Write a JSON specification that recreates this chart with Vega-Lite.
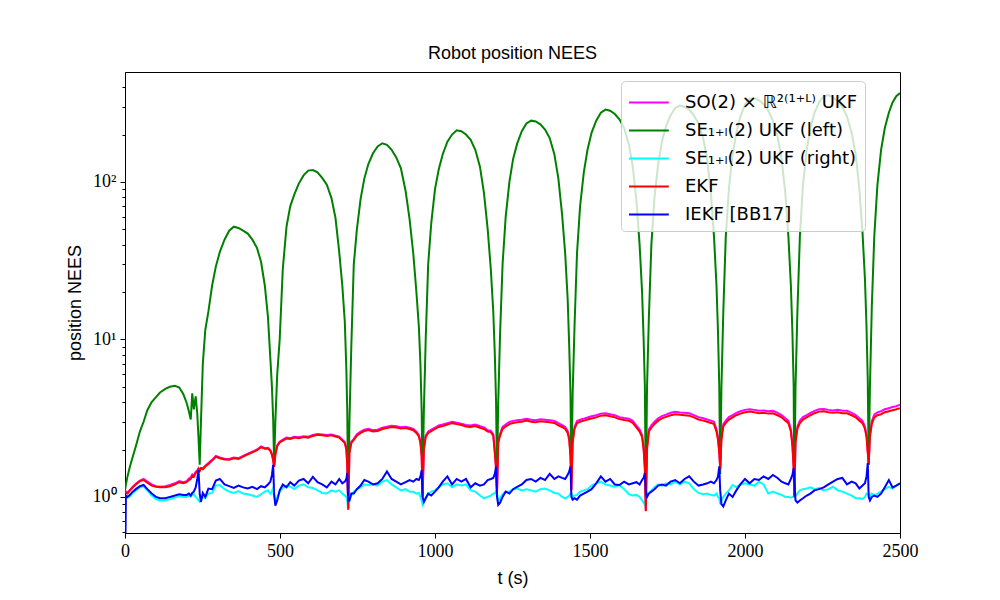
{
  "$schema": "https://vega.github.io/schema/vega-lite/v6.json",
  "width": 775,
  "height": 461,
  "autosize": {"type": "none"},
  "padding": {"left": 125, "top": 72, "right": 100, "bottom": 67},
  "background": "white",
  "title": {"text": "Robot position NEES", "font": "Liberation Sans", "fontSize": 18, "fontWeight": "normal", "color": "black", "offset": 9, "anchor": "middle"},
  "config": {
    "view": {"stroke": "black", "strokeWidth": 1},
    "axis": {"domainColor": "black", "tickColor": "black", "labelColor": "black", "titleColor": "black", "grid": false, "domainWidth": 1, "tickWidth": 1}
  },
  "data": {"values": [
    {"t":0,"g":1.1,"r":1.1,"b":0.3,"c":1.0,"m":1.11},
    {"t":3,"g":1.2,"r":1.06,"b":1.02,"c":1.0,"m":1.07},
    {"t":8,"g":1.35,"r":1.05,"b":1.0,"c":0.99,"m":1.06},
    {"t":16,"g":1.56,"r":1.1,"b":1.03,"c":1.01,"m":1.11},
    {"t":25,"g":1.8,"r":1.15,"b":1.08,"c":1.06,"m":1.16},
    {"t":35,"g":2.1,"r":1.2,"b":1.12,"c":1.1,"m":1.21},
    {"t":48,"g":2.6,"r":1.26,"b":1.17,"c":1.15,"m":1.27},
    {"t":60,"g":3.0,"r":1.28,"b":1.19,"c":1.17,"m":1.3},
    {"t":72,"g":3.55,"r":1.23,"b":1.12,"c":1.1,"m":1.25},
    {"t":86,"g":4.0,"r":1.18,"b":1.05,"c":1.02,"m":1.2},
    {"t":100,"g":4.3,"r":1.16,"b":1.0,"c":0.97,"m":1.17},
    {"t":113,"g":4.6,"r":1.15,"b":0.98,"c":0.95,"m":1.16},
    {"t":130,"g":4.85,"r":1.15,"b":0.98,"c":0.95,"m":1.17},
    {"t":145,"g":5.0,"r":1.17,"b":1.0,"c":0.97,"m":1.19},
    {"t":161,"g":5.07,"r":1.2,"b":1.02,"c":0.99,"m":1.22},
    {"t":175,"g":4.95,"r":1.24,"b":1.04,"c":1.01,"m":1.26},
    {"t":188,"g":4.5,"r":1.22,"b":1.03,"c":1.0,"m":1.24},
    {"t":199,"g":3.95,"r":1.24,"b":1.03,"c":1.0,"m":1.26},
    {"t":206,"g":3.5,"r":1.28,"b":1.05,"c":1.02,"m":1.31},
    {"t":212,"g":3.1,"r":1.3,"b":1.02,"c":1.0,"m":1.33},
    {"t":217,"g":4.55,"r":1.36,"b":1.06,"c":1.03,"m":1.39},
    {"t":222,"g":3.6,"r":1.34,"b":1.08,"c":1.04,"m":1.37},
    {"t":228,"g":4.35,"r":1.42,"b":1.15,"c":1.0,"m":1.44},
    {"t":233,"g":3.4,"r":1.45,"b":1.3,"c":0.98,"m":1.47},
    {"t":237,"g":2.4,"r":1.5,"b":1.48,"c":0.95,"m":1.52},
    {"t":241,"g":1.6,"r":1.46,"b":1.05,"c":0.93,"m":1.47},
    {"t":245,"g":3.0,"r":1.52,"b":0.93,"c":0.95,"m":1.53},
    {"t":251,"g":7.0,"r":1.5,"b":1.06,"c":1.0,"m":1.52},
    {"t":259,"g":11.5,"r":1.56,"b":1.0,"c":0.98,"m":1.58},
    {"t":269,"g":15,"r":1.62,"b":1.13,"c":1.05,"m":1.64},
    {"t":281,"g":22,"r":1.7,"b":1.12,"c":1.06,"m":1.72},
    {"t":293,"g":29,"r":1.8,"b":1.27,"c":1.18,"m":1.82},
    {"t":306,"g":36,"r":1.76,"b":1.3,"c":1.19,"m":1.78},
    {"t":321,"g":43,"r":1.73,"b":1.2,"c":1.12,"m":1.75},
    {"t":336,"g":49,"r":1.72,"b":1.17,"c":1.08,"m":1.74},
    {"t":351,"g":52,"r":1.76,"b":1.14,"c":1.06,"m":1.78},
    {"t":366,"g":51,"r":1.74,"b":1.18,"c":1.09,"m":1.76},
    {"t":381,"g":49,"r":1.8,"b":1.15,"c":1.05,"m":1.82},
    {"t":396,"g":47,"r":1.86,"b":1.13,"c":1.04,"m":1.88},
    {"t":411,"g":43,"r":1.92,"b":1.16,"c":1.02,"m":1.94},
    {"t":426,"g":38,"r":1.98,"b":1.12,"c":1.0,"m":2.0},
    {"t":439,"g":31,"r":2.07,"b":1.17,"c":1.04,"m":2.09},
    {"t":451,"g":22,"r":2.02,"b":1.15,"c":1.08,"m":2.04},
    {"t":461,"g":14,"r":2.03,"b":1.2,"c":1.1,"m":2.05},
    {"t":469,"g":7.5,"r":1.96,"b":1.25,"c":1.05,"m":1.98},
    {"t":474,"g":5,"r":1.85,"b":1.38,"c":1.08,"m":1.87},
    {"t":478,"g":3.1,"r":1.7,"b":1.6,"c":1.15,"m":1.72},
    {"t":481,"g":1.6,"r":1.55,"b":1.05,"c":1.0,"m":1.56},
    {"t":485,"g":3.0,"r":1.85,"b":0.88,"c":0.95,"m":1.87},
    {"t":491,"g":6,"r":2.1,"b":0.95,"c":1.0,"m":2.12},
    {"t":499,"g":10,"r":2.22,"b":1.1,"c":1.08,"m":2.24},
    {"t":509,"g":28,"r":2.28,"b":1.2,"c":1.14,"m":2.31},
    {"t":521,"g":52,"r":2.35,"b":1.15,"c":1.18,"m":2.38},
    {"t":533,"g":70,"r":2.33,"b":1.24,"c":1.16,"m":2.36},
    {"t":546,"g":83,"r":2.38,"b":1.18,"c":1.12,"m":2.41},
    {"t":561,"g":98,"r":2.36,"b":1.27,"c":1.18,"m":2.39},
    {"t":576,"g":110,"r":2.4,"b":1.3,"c":1.2,"m":2.43},
    {"t":591,"g":118,"r":2.38,"b":1.22,"c":1.15,"m":2.41},
    {"t":606,"g":119,"r":2.44,"b":1.34,"c":1.14,"m":2.47},
    {"t":621,"g":115,"r":2.48,"b":1.24,"c":1.1,"m":2.51},
    {"t":636,"g":106,"r":2.46,"b":1.2,"c":1.06,"m":2.49},
    {"t":651,"g":96,"r":2.44,"b":1.15,"c":1.05,"m":2.47},
    {"t":666,"g":79,"r":2.46,"b":1.25,"c":1.1,"m":2.49},
    {"t":679,"g":59,"r":2.42,"b":1.2,"c":1.08,"m":2.45},
    {"t":691,"g":36,"r":2.38,"b":1.3,"c":1.1,"m":2.41},
    {"t":701,"g":22,"r":2.28,"b":1.22,"c":1.05,"m":2.31},
    {"t":709,"g":13,"r":2.2,"b":1.25,"c":1.02,"m":2.23},
    {"t":714,"g":6.5,"r":2.0,"b":1.3,"c":1.0,"m":2.03},
    {"t":717,"g":3.5,"r":1.6,"b":1.42,"c":0.95,"m":1.62},
    {"t":720,"g":0.9,"r":0.83,"b":0.95,"c":0.83,"m":0.84},
    {"t":724,"g":3,"r":1.9,"b":0.95,"c":0.95,"m":1.93},
    {"t":730,"g":9,"r":2.2,"b":1.05,"c":1.02,"m":2.24},
    {"t":738,"g":30,"r":2.3,"b":1.05,"c":1.08,"m":2.34},
    {"t":748,"g":50,"r":2.45,"b":1.12,"c":1.12,"m":2.5},
    {"t":760,"g":78,"r":2.55,"b":1.18,"c":1.15,"m":2.6},
    {"t":772,"g":105,"r":2.62,"b":1.28,"c":1.2,"m":2.67},
    {"t":785,"g":130,"r":2.66,"b":1.25,"c":1.19,"m":2.71},
    {"t":800,"g":152,"r":2.6,"b":1.2,"c":1.2,"m":2.65},
    {"t":815,"g":168,"r":2.62,"b":1.22,"c":1.18,"m":2.67},
    {"t":830,"g":176,"r":2.7,"b":1.3,"c":1.25,"m":2.75},
    {"t":845,"g":172,"r":2.74,"b":1.45,"c":1.28,"m":2.79},
    {"t":860,"g":160,"r":2.78,"b":1.3,"c":1.2,"m":2.83},
    {"t":875,"g":143,"r":2.76,"b":1.25,"c":1.15,"m":2.81},
    {"t":890,"g":122,"r":2.72,"b":1.2,"c":1.1,"m":2.77},
    {"t":905,"g":88,"r":2.74,"b":1.24,"c":1.12,"m":2.79},
    {"t":918,"g":58,"r":2.7,"b":1.28,"c":1.08,"m":2.75},
    {"t":930,"g":35,"r":2.65,"b":1.25,"c":1.08,"m":2.7},
    {"t":940,"g":20,"r":2.55,"b":1.3,"c":1.05,"m":2.6},
    {"t":948,"g":12,"r":2.42,"b":1.28,"c":1.06,"m":2.47},
    {"t":953,"g":7,"r":2.2,"b":1.35,"c":1.0,"m":2.24},
    {"t":957,"g":3.5,"r":1.8,"b":1.48,"c":0.95,"m":1.83},
    {"t":960,"g":1.2,"r":1.0,"b":1.0,"c":0.89,"m":1.01},
    {"t":964,"g":3.5,"r":2.0,"b":0.93,"c":0.92,"m":2.04},
    {"t":970,"g":10,"r":2.4,"b":0.98,"c":0.98,"m":2.45},
    {"t":978,"g":30,"r":2.55,"b":1.05,"c":1.05,"m":2.6},
    {"t":988,"g":55,"r":2.62,"b":1.02,"c":1.08,"m":2.67},
    {"t":1000,"g":90,"r":2.7,"b":1.08,"c":1.1,"m":2.75},
    {"t":1012,"g":120,"r":2.78,"b":1.15,"c":1.15,"m":2.84},
    {"t":1025,"g":150,"r":2.82,"b":1.25,"c":1.2,"m":2.88},
    {"t":1040,"g":180,"r":2.88,"b":1.35,"c":1.22,"m":2.94},
    {"t":1055,"g":200,"r":2.94,"b":1.2,"c":1.15,"m":3.0},
    {"t":1070,"g":213,"r":2.9,"b":1.3,"c":1.2,"m":2.96},
    {"t":1085,"g":210,"r":2.86,"b":1.25,"c":1.18,"m":2.92},
    {"t":1100,"g":200,"r":2.8,"b":1.3,"c":1.2,"m":2.86},
    {"t":1115,"g":185,"r":2.78,"b":1.15,"c":1.1,"m":2.84},
    {"t":1130,"g":160,"r":2.82,"b":1.22,"c":1.08,"m":2.88},
    {"t":1145,"g":125,"r":2.75,"b":1.18,"c":1.02,"m":2.81},
    {"t":1158,"g":85,"r":2.7,"b":1.2,"c":0.98,"m":2.76},
    {"t":1170,"g":50,"r":2.6,"b":1.28,"c":1.0,"m":2.65},
    {"t":1180,"g":28,"r":2.58,"b":1.3,"c":1.02,"m":2.63},
    {"t":1188,"g":15,"r":2.45,"b":1.32,"c":1.05,"m":2.5},
    {"t":1193,"g":8,"r":1.9,"b":1.4,"c":1.05,"m":1.94},
    {"t":1197,"g":4,"r":1.5,"b":1.56,"c":1.08,"m":1.53},
    {"t":1200,"g":1.3,"r":1.05,"b":1.0,"c":1.05,"m":1.07},
    {"t":1204,"g":4,"r":2.2,"b":0.89,"c":0.95,"m":2.26},
    {"t":1210,"g":11,"r":2.45,"b":0.92,"c":0.98,"m":2.52},
    {"t":1218,"g":30,"r":2.7,"b":1.0,"c":1.04,"m":2.78},
    {"t":1228,"g":60,"r":2.8,"b":1.08,"c":1.08,"m":2.88},
    {"t":1240,"g":100,"r":2.9,"b":1.05,"c":1.08,"m":2.99},
    {"t":1252,"g":140,"r":2.95,"b":1.12,"c":1.12,"m":3.04},
    {"t":1265,"g":175,"r":2.98,"b":1.16,"c":1.13,"m":3.07},
    {"t":1280,"g":210,"r":3.0,"b":1.2,"c":1.1,"m":3.09},
    {"t":1295,"g":235,"r":3.05,"b":1.28,"c":1.12,"m":3.14},
    {"t":1310,"g":245,"r":3.0,"b":1.3,"c":1.1,"m":3.09},
    {"t":1325,"g":242,"r":2.98,"b":1.25,"c":1.08,"m":3.07},
    {"t":1340,"g":232,"r":3.02,"b":1.32,"c":1.12,"m":3.11},
    {"t":1355,"g":215,"r":3.0,"b":1.28,"c":1.13,"m":3.09},
    {"t":1370,"g":190,"r":2.98,"b":1.4,"c":1.1,"m":3.07},
    {"t":1385,"g":150,"r":2.95,"b":1.3,"c":1.06,"m":3.04},
    {"t":1398,"g":105,"r":2.85,"b":1.35,"c":1.05,"m":2.94},
    {"t":1410,"g":62,"r":2.78,"b":1.32,"c":1.0,"m":2.86},
    {"t":1420,"g":35,"r":2.7,"b":1.3,"c":0.98,"m":2.78},
    {"t":1428,"g":18,"r":2.55,"b":1.38,"c":1.0,"m":2.63},
    {"t":1433,"g":9,"r":2.3,"b":1.45,"c":1.02,"m":2.37},
    {"t":1437,"g":4.5,"r":1.8,"b":1.56,"c":1.05,"m":1.85},
    {"t":1440,"g":1.3,"r":1.1,"b":1.0,"c":1.05,"m":1.12},
    {"t":1444,"g":4.5,"r":2.2,"b":0.96,"c":1.0,"m":2.27},
    {"t":1450,"g":12,"r":2.7,"b":0.98,"c":1.02,"m":2.78},
    {"t":1458,"g":35,"r":2.94,"b":0.96,"c":1.03,"m":3.03},
    {"t":1468,"g":70,"r":3.0,"b":1.02,"c":1.08,"m":3.09},
    {"t":1480,"g":115,"r":3.05,"b":1.05,"c":1.1,"m":3.14},
    {"t":1492,"g":160,"r":3.1,"b":1.08,"c":1.12,"m":3.19},
    {"t":1505,"g":205,"r":3.15,"b":1.12,"c":1.18,"m":3.25},
    {"t":1520,"g":245,"r":3.2,"b":1.22,"c":1.22,"m":3.3},
    {"t":1535,"g":275,"r":3.28,"b":1.35,"c":1.25,"m":3.38},
    {"t":1550,"g":288,"r":3.3,"b":1.25,"c":1.2,"m":3.4},
    {"t":1565,"g":283,"r":3.25,"b":1.3,"c":1.18,"m":3.35},
    {"t":1580,"g":270,"r":3.2,"b":1.2,"c":1.16,"m":3.3},
    {"t":1595,"g":250,"r":3.12,"b":1.19,"c":1.19,"m":3.21},
    {"t":1610,"g":220,"r":3.08,"b":1.25,"c":1.12,"m":3.17},
    {"t":1625,"g":175,"r":3.05,"b":1.2,"c":1.04,"m":3.14},
    {"t":1638,"g":125,"r":2.95,"b":1.22,"c":1.02,"m":3.04},
    {"t":1650,"g":75,"r":2.75,"b":1.24,"c":1.03,"m":2.83},
    {"t":1660,"g":40,"r":2.6,"b":1.2,"c":1.0,"m":2.68},
    {"t":1668,"g":20,"r":2.4,"b":1.28,"c":0.95,"m":2.47},
    {"t":1673,"g":10,"r":2.0,"b":1.32,"c":0.92,"m":2.06},
    {"t":1677,"g":5,"r":1.5,"b":1.42,"c":0.89,"m":1.54},
    {"t":1680,"g":1.0,"r":0.81,"b":1.1,"c":0.95,"m":0.82},
    {"t":1684,"g":5,"r":2.0,"b":1.0,"c":1.0,"m":2.07},
    {"t":1690,"g":14,"r":2.6,"b":1.05,"c":1.06,"m":2.69},
    {"t":1698,"g":40,"r":2.75,"b":1.08,"c":1.1,"m":2.85},
    {"t":1708,"g":80,"r":2.9,"b":1.12,"c":1.15,"m":3.0},
    {"t":1720,"g":130,"r":3.05,"b":1.18,"c":1.2,"m":3.16},
    {"t":1732,"g":180,"r":3.15,"b":1.2,"c":1.18,"m":3.26},
    {"t":1745,"g":225,"r":3.22,"b":1.18,"c":1.22,"m":3.33},
    {"t":1760,"g":265,"r":3.3,"b":1.25,"c":1.2,"m":3.42},
    {"t":1775,"g":295,"r":3.35,"b":1.28,"c":1.25,"m":3.47},
    {"t":1790,"g":305,"r":3.32,"b":1.22,"c":1.2,"m":3.44},
    {"t":1805,"g":300,"r":3.3,"b":1.3,"c":1.25,"m":3.42},
    {"t":1820,"g":288,"r":3.28,"b":1.35,"c":1.22,"m":3.4},
    {"t":1835,"g":265,"r":3.2,"b":1.25,"c":1.12,"m":3.31},
    {"t":1850,"g":235,"r":3.1,"b":1.18,"c":1.06,"m":3.21},
    {"t":1865,"g":190,"r":3.05,"b":1.2,"c":1.04,"m":3.16},
    {"t":1878,"g":140,"r":3.0,"b":1.22,"c":1.05,"m":3.1},
    {"t":1890,"g":85,"r":2.95,"b":1.25,"c":1.03,"m":3.05},
    {"t":1900,"g":45,"r":2.9,"b":1.22,"c":1.02,"m":3.0},
    {"t":1908,"g":22,"r":2.6,"b":1.28,"c":1.05,"m":2.69},
    {"t":1913,"g":11,"r":2.3,"b":1.35,"c":1.0,"m":2.38},
    {"t":1917,"g":5,"r":1.9,"b":1.56,"c":0.98,"m":1.96},
    {"t":1920,"g":1.4,"r":1.5,"b":1.1,"c":0.9,"m":1.53},
    {"t":1924,"g":5,"r":2.3,"b":0.9,"c":0.95,"m":2.38},
    {"t":1930,"g":15,"r":2.8,"b":0.87,"c":1.0,"m":2.9},
    {"t":1938,"g":45,"r":2.95,"b":0.95,"c":1.05,"m":3.05},
    {"t":1948,"g":90,"r":3.1,"b":1.05,"c":1.1,"m":3.21},
    {"t":1960,"g":150,"r":3.2,"b":1.0,"c":1.19,"m":3.31},
    {"t":1972,"g":205,"r":3.3,"b":1.1,"c":1.15,"m":3.42},
    {"t":1985,"g":260,"r":3.38,"b":1.2,"c":1.2,"m":3.5},
    {"t":2000,"g":310,"r":3.45,"b":1.3,"c":1.22,"m":3.57},
    {"t":2015,"g":338,"r":3.48,"b":1.22,"c":1.2,"m":3.6},
    {"t":2030,"g":340,"r":3.45,"b":1.3,"c":1.18,"m":3.57},
    {"t":2045,"g":330,"r":3.4,"b":1.28,"c":1.25,"m":3.52},
    {"t":2060,"g":312,"r":3.42,"b":1.35,"c":1.2,"m":3.54},
    {"t":2075,"g":285,"r":3.38,"b":1.3,"c":1.05,"m":3.5},
    {"t":2090,"g":245,"r":3.4,"b":1.38,"c":1.08,"m":3.52},
    {"t":2105,"g":195,"r":3.3,"b":1.32,"c":1.05,"m":3.42},
    {"t":2118,"g":140,"r":3.2,"b":1.25,"c":1.03,"m":3.31},
    {"t":2130,"g":85,"r":3.05,"b":1.22,"c":1.0,"m":3.16},
    {"t":2140,"g":45,"r":2.94,"b":1.2,"c":1.0,"m":3.04},
    {"t":2148,"g":22,"r":2.6,"b":1.3,"c":0.99,"m":2.69},
    {"t":2153,"g":11,"r":2.1,"b":1.38,"c":1.0,"m":2.17},
    {"t":2157,"g":5,"r":1.5,"b":1.52,"c":1.0,"m":1.55},
    {"t":2159,"g":1.0,"r":1.0,"b":1.3,"c":1.0,"m":1.02},
    {"t":2163,"g":5,"r":2.2,"b":0.95,"c":1.02,"m":2.28},
    {"t":2169,"g":15,"r":2.7,"b":0.92,"c":1.05,"m":2.8},
    {"t":2177,"g":45,"r":2.94,"b":0.95,"c":1.1,"m":3.05},
    {"t":2187,"g":95,"r":3.1,"b":0.98,"c":1.12,"m":3.21},
    {"t":2199,"g":160,"r":3.2,"b":1.02,"c":1.13,"m":3.31},
    {"t":2211,"g":220,"r":3.3,"b":1.05,"c":1.15,"m":3.42},
    {"t":2224,"g":275,"r":3.4,"b":1.1,"c":1.12,"m":3.52},
    {"t":2239,"g":320,"r":3.48,"b":1.12,"c":1.14,"m":3.6},
    {"t":2254,"g":350,"r":3.5,"b":1.15,"c":1.1,"m":3.62},
    {"t":2269,"g":356,"r":3.45,"b":1.2,"c":1.12,"m":3.57},
    {"t":2284,"g":345,"r":3.42,"b":1.25,"c":1.16,"m":3.54},
    {"t":2299,"g":325,"r":3.45,"b":1.3,"c":1.1,"m":3.57},
    {"t":2314,"g":300,"r":3.4,"b":1.32,"c":1.08,"m":3.52},
    {"t":2329,"g":260,"r":3.4,"b":1.2,"c":1.05,"m":3.52},
    {"t":2344,"g":205,"r":3.3,"b":1.25,"c":1.02,"m":3.42},
    {"t":2357,"g":150,"r":3.2,"b":1.22,"c":0.98,"m":3.31},
    {"t":2369,"g":90,"r":3.05,"b":1.13,"c":0.98,"m":3.16},
    {"t":2379,"g":48,"r":2.94,"b":1.18,"c":0.97,"m":3.04},
    {"t":2387,"g":24,"r":2.7,"b":1.22,"c":1.0,"m":2.79},
    {"t":2392,"g":12,"r":2.4,"b":1.35,"c":1.05,"m":2.48},
    {"t":2396,"g":5.5,"r":1.9,"b":1.64,"c":1.04,"m":1.96},
    {"t":2399,"g":1.6,"r":1.6,"b":1.0,"c":1.05,"m":1.63},
    {"t":2403,"g":5,"r":2.4,"b":0.95,"c":1.0,"m":2.5},
    {"t":2409,"g":16,"r":2.9,"b":1.0,"c":1.05,"m":3.02},
    {"t":2417,"g":45,"r":3.2,"b":1.02,"c":1.02,"m":3.33},
    {"t":2427,"g":95,"r":3.3,"b":1.0,"c":1.05,"m":3.44},
    {"t":2439,"g":160,"r":3.35,"b":1.05,"c":1.08,"m":3.5},
    {"t":2451,"g":220,"r":3.45,"b":1.15,"c":1.12,"m":3.6},
    {"t":2464,"g":275,"r":3.5,"b":1.28,"c":1.16,"m":3.66},
    {"t":2476,"g":320,"r":3.55,"b":1.15,"c":1.13,"m":3.72},
    {"t":2488,"g":350,"r":3.6,"b":1.18,"c":1.18,"m":3.77},
    {"t":2500,"g":367,"r":3.66,"b":1.22,"c":1.22,"m":3.85}
  ]},
  "encoding": {
    "x": {"field": "t", "type": "quantitative", "scale": {"domain": [0, 2500], "nice": false, "zero": false},
      "axis": {"values": [0, 500, 1000, 1500, 2000, 2500], "format": "d", "title": "t (s)", "labelFont": "Liberation Serif", "labelFontSize": 18, "tickSize": 5, "labelPadding": 4, "labelFlush": false, "titleFont": "Liberation Sans", "titleFontSize": 18, "titleFontWeight": "normal", "titleY": 45, "titleBaseline": "middle"}}
  },
  "layer": [
    {
      "mark": {"type": "line", "strokeWidth": 2, "clip": true},
      "encoding": {
        "y": {"field": "m", "type": "quantitative", "scale": {"type": "log", "domain": [0.59, 499], "nice": false},
          "axis": {"orient": "left", "values": [1, 10, 100], "labelExpr": "datum.value == 1 ? '10⁰' : datum.value == 10 ? '10¹' : '10²'", "labelFont": "Liberation Serif", "labelFontSize": 18, "tickSize": 5, "labelPadding": 4, "title": "position NEES", "titleFont": "Liberation Sans", "titleFontSize": 18, "titleFontWeight": "normal", "titleX": -50, "titleY": 230.5, "titleAngle": -90, "titleBaseline": "middle", "titleAlign": "center"}},
        "color": {"datum": "SO(2) × ℝ²⁽¹⁺ᴸ⁾ UKF", "type": "nominal",
          "scale": {"domain": ["SO(2) × ℝ²⁽¹⁺ᴸ⁾ UKF", "SE₁₊ₗ(2) UKF (left)", "SE₁₊ₗ(2) UKF (right)", "EKF", "IEKF [BB17]"], "range": ["#ff00ff", "#008000", "#00ffff", "#ff0000", "#0000ff"]},
          "legend": {"orient": "none", "legendX": 496, "legendY": 9, "title": null, "symbolType": "M-1,0H1.95", "symbolSize": 729, "symbolStrokeWidth": 2, "labelFont": "DejaVu Sans", "labelFontSize": 18, "labelColor": "black", "fillColor": "rgba(255,255,255,0.8)", "strokeColor": "#cccccc", "cornerRadius": 4, "padding": 7, "labelOffset": 28, "labelLimit": 400, "rowPadding": 4}}
      }
    },
    {
      "mark": {"type": "line", "strokeWidth": 2, "clip": true},
      "encoding": {
        "y": {"field": "g", "type": "quantitative",
          "axis": {"orient": "left", "values": [0.6, 0.7, 0.8, 0.9, 2, 3, 4, 5, 6, 7, 8, 9, 20, 30, 40, 50, 60, 70, 80, 90, 200, 300, 400], "labels": false, "domain": false, "tickSize": 3, "title": null}},
        "color": {"datum": "SE₁₊ₗ(2) UKF (left)", "type": "nominal"}
      }
    },
    {
      "mark": {"type": "line", "strokeWidth": 2, "clip": true},
      "encoding": {
        "y": {"field": "c", "type": "quantitative", "axis": null},
        "color": {"datum": "SE₁₊ₗ(2) UKF (right)", "type": "nominal"}
      }
    },
    {
      "mark": {"type": "line", "strokeWidth": 2, "clip": true},
      "encoding": {
        "y": {"field": "r", "type": "quantitative", "axis": null},
        "color": {"datum": "EKF", "type": "nominal"}
      }
    },
    {
      "mark": {"type": "line", "strokeWidth": 2, "clip": true},
      "encoding": {
        "y": {"field": "b", "type": "quantitative", "axis": null},
        "color": {"datum": "IEKF [BB17]", "type": "nominal"}
      }
    }
  ],
  "resolve": {"axis": {"y": "independent"}}
}
